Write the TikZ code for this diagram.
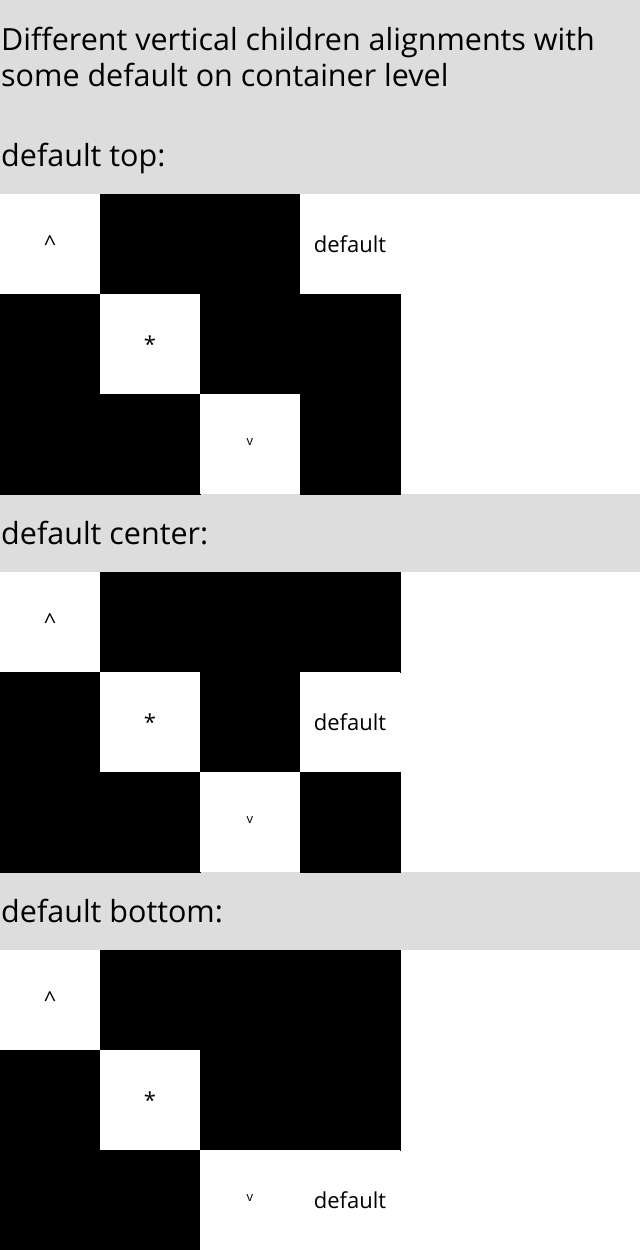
\documentclass[tikz,border=0pt]{standalone}
\usepackage{fontspec}
\setmainfont{Open Sans}
\usetikzlibrary{positioning}
\definecolor{bandgray}{RGB}{221,221,221}
\tikzset{
    x=1pt, y=-1pt,
    node distance=0pt,
    cell/.style={minimum size=100pt, inner sep=0pt, outer sep=0pt, anchor=north west, font=\fontsize{22}{26}\selectfont},
    dark/.style={cell, fill=black, draw=black, line width=0.4pt},
    light/.style={cell, fill=white},
    heading/.style={anchor=base west, inner sep=0pt, font=\fontsize{30.5}{36}\selectfont},
    small/.style={font=\fontsize{13}{15}\selectfont, text depth=4pt}
}

\begin{document}
\begin{tikzpicture}
    \useasboundingbox (0,0) rectangle (640,1250);
    \fill[white] (0,0) rectangle (640,1250);
    % gray bands
    \fill[bandgray] (0,0) rectangle (640,194);
    \fill[bandgray] (0,494) rectangle (640,572);
    \fill[bandgray] (0,872) rectangle (640,950);

    \node[heading] (title1) at (1,50) {Different vertical children alignments with};
    \node[heading] (title2) at (1,86) {some default on container level};
    \node[heading] (top) at (1,166) {default top:};
    \node[heading] (center) at (1,544) {default center:};
    \node[heading] (bottom) at (1,922) {default bottom:};

    % default top
    \node[light] (a1) at (0,194) {\textasciicircum};
    \node[dark, right=of a1] (a2) {};
    \node[dark, right=of a2] (a3) {};
    \node[light, right=of a3] (a4) {default};
    \node[dark, below=of a1] (a5) {};
    \node[light, right=of a5] (a6) {*};
    \node[dark, right=of a6] (a7) {};
    \node[dark, right=of a7] (a8) {};
    \node[dark, below=of a5] (a9) {};
    \node[dark, right=of a9] (a10) {};
    \node[light, right=of a10, small] (a11) {v};
    \node[dark, right=of a11] (a12) {};

    % default center
    \node[light] (b1) at (0,572) {\textasciicircum};
    \node[dark, right=of b1] (b2) {};
    \node[dark, right=of b2] (b3) {};
    \node[dark, right=of b3] (b4) {};
    \node[dark, below=of b1] (b5) {};
    \node[light, right=of b5] (b6) {*};
    \node[dark, right=of b6] (b7) {};
    \node[light, right=of b7] (b8) {default};
    \node[dark, below=of b5] (b9) {};
    \node[dark, right=of b9] (b10) {};
    \node[light, right=of b10, small] (b11) {v};
    \node[dark, right=of b11] (b12) {};

    % default bottom
    \node[light] (c1) at (0,950) {\textasciicircum};
    \node[dark, right=of c1] (c2) {};
    \node[dark, right=of c2] (c3) {};
    \node[dark, right=of c3] (c4) {};
    \node[dark, below=of c1] (c5) {};
    \node[light, right=of c5] (c6) {*};
    \node[dark, right=of c6] (c7) {};
    \node[dark, right=of c7] (c8) {};
    \node[dark, below=of c5] (c9) {};
    \node[dark, right=of c9] (c10) {};
    \node[light, right=of c10, small] (c11) {v};
    \node[light, right=of c11] (c12) {default};
\end{tikzpicture}
\end{document}
